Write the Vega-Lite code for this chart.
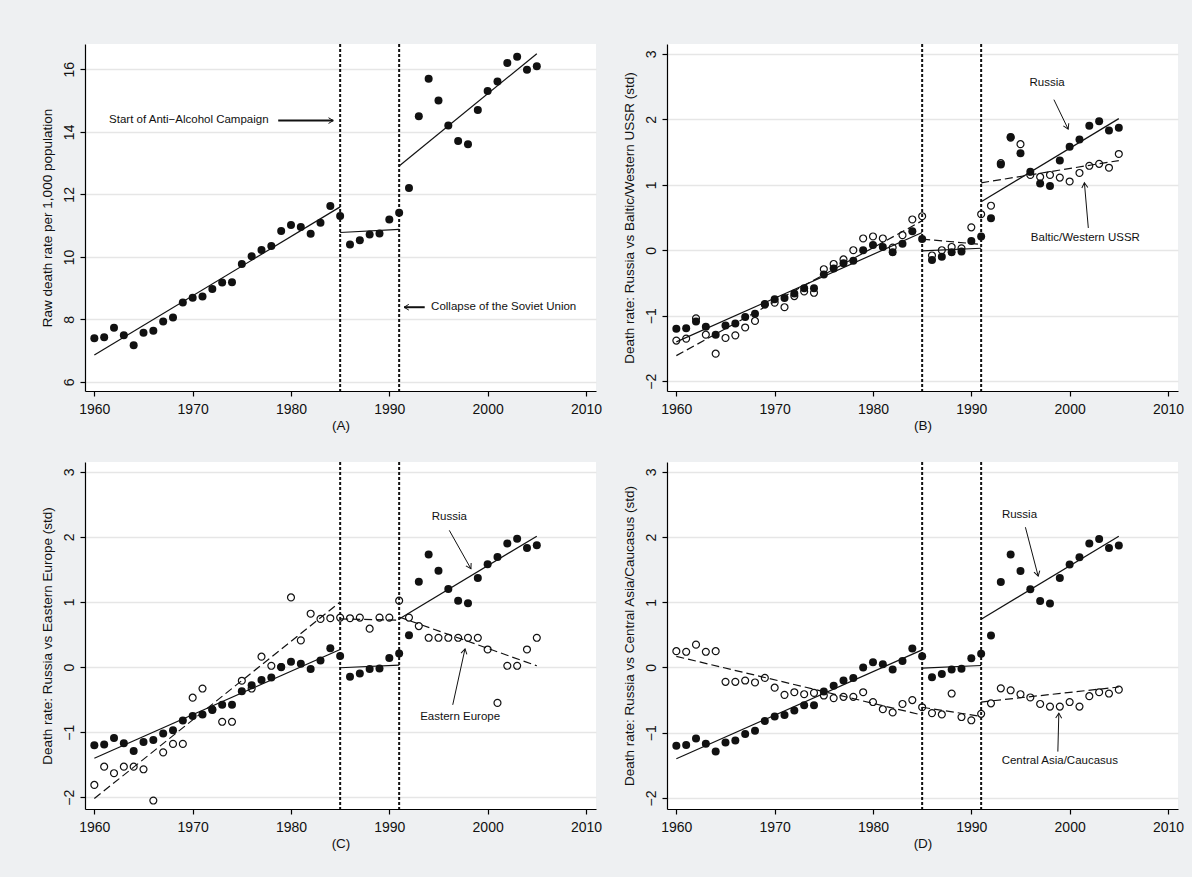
{
  "$schema": "https://vega.github.io/schema/vega-lite/v6.json",
  "background": "#eef0f2",
  "padding": {"left": 40, "top": 43, "right": 8, "bottom": 32},
  "bounds": "flush",
  "columns": 2,
  "spacing": {"row": 71, "column": 71},
  "datasets": {
    "pts": [
      {"year":1960,"raw":7.40,"russia":-1.20,"baltic":-1.38,"eastern":-1.81,"central":0.25},
      {"year":1961,"raw":7.43,"russia":-1.19,"baltic":-1.35,"eastern":-1.53,"central":0.24},
      {"year":1962,"raw":7.73,"russia":-1.09,"baltic":-1.04,"eastern":-1.63,"central":0.35},
      {"year":1963,"raw":7.49,"russia":-1.17,"baltic":-1.29,"eastern":-1.53,"central":0.24},
      {"year":1964,"raw":7.17,"russia":-1.29,"baltic":-1.58,"eastern":-1.53,"central":0.25},
      {"year":1965,"raw":7.57,"russia":-1.15,"baltic":-1.34,"eastern":-1.57,"central":-0.22},
      {"year":1966,"raw":7.64,"russia":-1.12,"baltic":-1.30,"eastern":-2.05,"central":-0.22},
      {"year":1967,"raw":7.93,"russia":-1.02,"baltic":-1.18,"eastern":-1.31,"central":-0.20},
      {"year":1968,"raw":8.06,"russia":-0.97,"baltic":-1.08,"eastern":-1.18,"central":-0.23},
      {"year":1969,"raw":8.54,"russia":-0.82,"baltic":-0.83,"eastern":-1.18,"central":-0.16},
      {"year":1970,"raw":8.69,"russia":-0.75,"baltic":-0.80,"eastern":-0.47,"central":-0.31},
      {"year":1971,"raw":8.73,"russia":-0.73,"baltic":-0.87,"eastern":-0.33,"central":-0.42},
      {"year":1972,"raw":8.97,"russia":-0.66,"baltic":-0.70,"eastern":-0.65,"central":-0.38},
      {"year":1973,"raw":9.18,"russia":-0.58,"baltic":-0.63,"eastern":-0.84,"central":-0.41},
      {"year":1974,"raw":9.19,"russia":-0.58,"baltic":-0.65,"eastern":-0.84,"central":-0.39},
      {"year":1975,"raw":9.77,"russia":-0.37,"baltic":-0.29,"eastern":-0.21,"central":-0.43},
      {"year":1976,"raw":10.02,"russia":-0.28,"baltic":-0.21,"eastern":-0.33,"central":-0.47},
      {"year":1977,"raw":10.22,"russia":-0.20,"baltic":-0.14,"eastern":0.16,"central":-0.45},
      {"year":1978,"raw":10.35,"russia":-0.16,"baltic":0.00,"eastern":0.02,"central":-0.45},
      {"year":1979,"raw":10.83,"russia":0.00,"baltic":0.18,"eastern":0.00,"central":-0.38},
      {"year":1980,"raw":11.02,"russia":0.08,"baltic":0.21,"eastern":1.07,"central":-0.53},
      {"year":1981,"raw":10.96,"russia":0.05,"baltic":0.18,"eastern":0.41,"central":-0.64},
      {"year":1982,"raw":10.74,"russia":-0.03,"baltic":0.04,"eastern":0.82,"central":-0.69},
      {"year":1983,"raw":11.09,"russia":0.10,"baltic":0.23,"eastern":0.74,"central":-0.56},
      {"year":1984,"raw":11.63,"russia":0.29,"baltic":0.47,"eastern":0.75,"central":-0.50},
      {"year":1985,"raw":11.31,"russia":0.17,"baltic":0.52,"eastern":0.76,"central":-0.61},
      {"year":1986,"raw":10.40,"russia":-0.15,"baltic":-0.08,"eastern":0.75,"central":-0.70},
      {"year":1987,"raw":10.53,"russia":-0.10,"baltic":0.00,"eastern":0.76,"central":-0.72},
      {"year":1988,"raw":10.72,"russia":-0.03,"baltic":0.05,"eastern":0.59,"central":-0.40},
      {"year":1989,"raw":10.75,"russia":-0.02,"baltic":0.03,"eastern":0.76,"central":-0.76},
      {"year":1990,"raw":11.20,"russia":0.14,"baltic":0.35,"eastern":0.76,"central":-0.81},
      {"year":1991,"raw":11.41,"russia":0.21,"baltic":0.55,"eastern":1.02,"central":-0.71},
      {"year":1992,"raw":12.20,"russia":0.49,"baltic":0.68,"eastern":0.76,"central":-0.55},
      {"year":1993,"raw":14.50,"russia":1.31,"baltic":1.33,"eastern":0.63,"central":-0.32},
      {"year":1994,"raw":15.70,"russia":1.73,"baltic":1.72,"eastern":0.45,"central":-0.35},
      {"year":1995,"raw":15.00,"russia":1.48,"baltic":1.62,"eastern":0.45,"central":-0.41},
      {"year":1996,"raw":14.20,"russia":1.20,"baltic":1.15,"eastern":0.45,"central":-0.46},
      {"year":1997,"raw":13.71,"russia":1.02,"baltic":1.12,"eastern":0.45,"central":-0.56},
      {"year":1998,"raw":13.60,"russia":0.98,"baltic":1.15,"eastern":0.45,"central":-0.60},
      {"year":1999,"raw":14.70,"russia":1.37,"baltic":1.11,"eastern":0.45,"central":-0.60},
      {"year":2000,"raw":15.31,"russia":1.58,"baltic":1.05,"eastern":0.27,"central":-0.53},
      {"year":2001,"raw":15.61,"russia":1.69,"baltic":1.18,"eastern":-0.55,"central":-0.60},
      {"year":2002,"raw":16.20,"russia":1.90,"baltic":1.29,"eastern":0.02,"central":-0.44},
      {"year":2003,"raw":16.40,"russia":1.97,"baltic":1.32,"eastern":0.02,"central":-0.38},
      {"year":2004,"raw":15.99,"russia":1.83,"baltic":1.26,"eastern":0.27,"central":-0.40},
      {"year":2005,"raw":16.10,"russia":1.87,"baltic":1.47,"eastern":0.45,"central":-0.34}
    ],
    "fits": [
      {"s":"raw","seg":1,"year":1960,"v":6.86},{"s":"raw","seg":1,"year":1985,"v":11.60},
      {"s":"raw","seg":2,"year":1985,"v":10.78},{"s":"raw","seg":2,"year":1991,"v":10.88},
      {"s":"raw","seg":3,"year":1991,"v":12.91},{"s":"raw","seg":3,"year":2005,"v":16.50},
      {"s":"russia","seg":1,"year":1960,"v":-1.40},{"s":"russia","seg":1,"year":1985,"v":0.27},
      {"s":"russia","seg":2,"year":1985,"v":-0.01},{"s":"russia","seg":2,"year":1991,"v":0.03},
      {"s":"russia","seg":3,"year":1991,"v":0.74},{"s":"russia","seg":3,"year":2005,"v":2.01},
      {"s":"baltic","seg":1,"year":1960,"v":-1.61},{"s":"baltic","seg":1,"year":1985,"v":0.45},
      {"s":"baltic","seg":2,"year":1985,"v":0.17},{"s":"baltic","seg":2,"year":1991,"v":0.09},
      {"s":"baltic","seg":3,"year":1991,"v":1.03},{"s":"baltic","seg":3,"year":2005,"v":1.37},
      {"s":"eastern","seg":1,"year":1960,"v":-2.02},{"s":"eastern","seg":1,"year":1985,"v":1.00},
      {"s":"eastern","seg":2,"year":1985,"v":0.74},{"s":"eastern","seg":2,"year":1991,"v":0.72},
      {"s":"eastern","seg":3,"year":1991,"v":0.77},{"s":"eastern","seg":3,"year":2005,"v":0.02},
      {"s":"central","seg":1,"year":1960,"v":0.17},{"s":"central","seg":1,"year":1985,"v":-0.73},
      {"s":"central","seg":2,"year":1985,"v":-0.61},{"s":"central","seg":2,"year":1991,"v":-0.75},
      {"s":"central","seg":3,"year":1991,"v":-0.53},{"s":"central","seg":3,"year":2005,"v":-0.30}
    ],
    "events": [{"year":1985},{"year":1991}],
    "notes": [
      {"p":"A","label":"Start of Anti−Alcohol Campaign","year":1961.5,"v":14.37},
      {"p":"A","label":"Collapse of  the Soviet Union","year":1994.25,"v":8.39},
      {"p":"B","label":"Russia","year":1997.7,"v":2.55},
      {"p":"B","label":"Baltic/Western USSR","year":2001.6,"v":0.19},
      {"p":"C","label":"Russia","year":1996.1,"v":2.30},
      {"p":"C","label":"Eastern Europe","year":1997.2,"v":-0.76},
      {"p":"D","label":"Russia","year":1994.9,"v":2.33},
      {"p":"D","label":"Central Asia/Caucasus","year":1999.0,"v":-1.43}
    ],
    "arrows": [
      {"id":"A1","p":"A","year":1984.3,"v":14.36,"year0":1978.7,"v0":14.36},
      {"id":"A2","p":"A","year":1991.5,"v":8.39,"year0":1993.6,"v0":8.39},
      {"id":"B1","p":"B","year":1999.85,"v":1.85,"year0":1998.4,"v0":2.30},
      {"id":"B2","p":"B","year":2001.5,"v":1.03,"year0":2001.9,"v0":0.34},
      {"id":"C1","p":"C","year":1998.3,"v":1.51,"year0":1996.1,"v0":2.10},
      {"id":"C2","p":"C","year":1997.7,"v":0.28,"year0":1996.45,"v0":-0.58},
      {"id":"D1","p":"D","year":1996.8,"v":1.40,"year0":1995.5,"v0":2.15},
      {"id":"D2","p":"D","year":1998.9,"v":-0.70,"year0":1998.8,"v0":-1.29}
    ]
  },
  "concat": [
    {
      "width": 511, "height": 347,
      "encoding": {
        "x": {"field":"year","type":"quantitative","scale":{"domain":[1959.05,2011.02],"nice":false,"zero":false},"axis":{"title":"(A)","values":[1960,1970,1980,1990,2000,2010],"format":"d"}}
      },
      "layer": [
        {"data":{"name":"events"},"mark":{"type":"rule","color":"#111","strokeWidth":2,"strokeDash":[3,2]}},
        {"data":{"name":"fits"},"transform":[{"filter":"datum.s == 'raw'"}],"mark":{"type":"line","color":"#111","strokeWidth":1.2},"encoding":{"y":{"field":"v","type":"quantitative","scale":{"domain":[5.71,16.81],"nice":false,"zero":false},"axis":{"title":"Raw death rate per 1,000 population","values":[6,8,10,12,14,16]}},"detail":{"field":"seg","type":"nominal"}}},
        {"data":{"name":"pts"},"transform":[{"fold":["raw"],"as":["s","v"]}],"mark":{"type":"point","shape":"circle","filled":true,"color":"#111","size":64,"opacity":1},"encoding":{"y":{"field":"v","type":"quantitative","scale":{"domain":[5.71,16.81],"nice":false,"zero":false},"axis":{"title":"Raw death rate per 1,000 population","values":[6,8,10,12,14,16]}}}},
        {"data":{"name":"notes"},"transform":[{"filter":"datum.p == 'A'"}],"mark":{"type":"text","align":"left","baseline":"middle","fontSize":11.5,"color":"#111","font":"Liberation Sans"},"encoding":{"y":{"field":"v","type":"quantitative","scale":{"domain":[5.71,16.81],"nice":false,"zero":false},"axis":{"title":"Raw death rate per 1,000 population","values":[6,8,10,12,14,16]}},"text":{"field":"label"}}},
        {"data":{"name":"arrows"},"transform":[{"filter":"datum.p == 'A'"}],"mark":{"type":"rule","color":"#111","strokeWidth":2},"encoding":{"y":{"field":"v","type":"quantitative","scale":{"domain":[5.71,16.81],"nice":false,"zero":false},"axis":{"title":"Raw death rate per 1,000 population","values":[6,8,10,12,14,16]}},"x2":{"field":"year0"},"y2":{"field":"v0"}}},
        {"data":{"name":"arrows"},"transform":[{"filter":"datum.id == 'A1'"}],"mark":{"type":"point","shape":"M-1,-0.6L0,0L-1,0.6","filled":false,"color":"#111","strokeWidth":1,"size":90,"angle":0,"opacity":1},"encoding":{"y":{"field":"v","type":"quantitative","scale":{"domain":[5.71,16.81],"nice":false,"zero":false},"axis":{"title":"Raw death rate per 1,000 population","values":[6,8,10,12,14,16]}}}},
        {"data":{"name":"arrows"},"transform":[{"filter":"datum.id == 'A2'"}],"mark":{"type":"point","shape":"M-1,-0.6L0,0L-1,0.6","filled":false,"color":"#111","strokeWidth":1,"size":90,"angle":180,"opacity":1},"encoding":{"y":{"field":"v","type":"quantitative","scale":{"domain":[5.71,16.81],"nice":false,"zero":false},"axis":{"title":"Raw death rate per 1,000 population","values":[6,8,10,12,14,16]}}}}
      ]
    },
    {
      "width": 511, "height": 347,
      "encoding": {
        "x": {"field":"year","type":"quantitative","scale":{"domain":[1959.05,2011.02],"nice":false,"zero":false},"axis":{"title":"(B)","values":[1960,1970,1980,1990,2000,2010],"format":"d"}}
      },
      "layer": [
        {"data":{"name":"events"},"mark":{"type":"rule","color":"#111","strokeWidth":2,"strokeDash":[3,2]}},
        {"data":{"name":"fits"},"transform":[{"filter":"datum.s == 'russia'"}],"mark":{"type":"line","color":"#111","strokeWidth":1.2},"encoding":{"y":{"field":"v","type":"quantitative","scale":{"domain":[-2.15,3.15],"nice":false,"zero":false},"axis":{"title":"Death rate: Russia vs Baltic/Western USSR (std)","values":[-2,-1,0,1,2,3]}},"detail":{"field":"seg","type":"nominal"}}},
        {"data":{"name":"fits"},"transform":[{"filter":"datum.s == 'baltic'"}],"mark":{"type":"line","color":"#111","strokeWidth":1.2,"strokeDash":[8,4]},"encoding":{"y":{"field":"v","type":"quantitative","scale":{"domain":[-2.15,3.15],"nice":false,"zero":false},"axis":{"title":"Death rate: Russia vs Baltic/Western USSR (std)","values":[-2,-1,0,1,2,3]}},"detail":{"field":"seg","type":"nominal"}}},
        {"data":{"name":"pts"},"transform":[{"fold":["russia"],"as":["s","v"]}],"mark":{"type":"point","shape":"circle","filled":true,"color":"#111","size":64,"opacity":1},"encoding":{"y":{"field":"v","type":"quantitative","scale":{"domain":[-2.15,3.15],"nice":false,"zero":false},"axis":{"title":"Death rate: Russia vs Baltic/Western USSR (std)","values":[-2,-1,0,1,2,3]}}}},
        {"data":{"name":"pts"},"transform":[{"fold":["baltic"],"as":["s","v"]}],"mark":{"type":"point","shape":"circle","filled":false,"color":"#111","size":48,"strokeWidth":1.2,"opacity":1},"encoding":{"y":{"field":"v","type":"quantitative","scale":{"domain":[-2.15,3.15],"nice":false,"zero":false},"axis":{"title":"Death rate: Russia vs Baltic/Western USSR (std)","values":[-2,-1,0,1,2,3]}}}},
        {"data":{"name":"notes"},"transform":[{"filter":"datum.p == 'B'"}],"mark":{"type":"text","align":"center","baseline":"middle","fontSize":11.5,"color":"#111","font":"Liberation Sans"},"encoding":{"y":{"field":"v","type":"quantitative","scale":{"domain":[-2.15,3.15],"nice":false,"zero":false},"axis":{"title":"Death rate: Russia vs Baltic/Western USSR (std)","values":[-2,-1,0,1,2,3]}},"text":{"field":"label"}}},
        {"data":{"name":"arrows"},"transform":[{"filter":"datum.p == 'B'"}],"mark":{"type":"rule","color":"#111","strokeWidth":1},"encoding":{"y":{"field":"v","type":"quantitative","scale":{"domain":[-2.15,3.15],"nice":false,"zero":false},"axis":{"title":"Death rate: Russia vs Baltic/Western USSR (std)","values":[-2,-1,0,1,2,3]}},"x2":{"field":"year0"},"y2":{"field":"v0"}}},
        {"data":{"name":"arrows"},"transform":[{"filter":"datum.id == 'B1'"}],"mark":{"type":"point","shape":"M-1,-0.6L0,0L-1,0.6","filled":false,"color":"#111","strokeWidth":1,"size":100,"angle":65,"opacity":1},"encoding":{"y":{"field":"v","type":"quantitative","scale":{"domain":[-2.15,3.15],"nice":false,"zero":false},"axis":{"title":"Death rate: Russia vs Baltic/Western USSR (std)","values":[-2,-1,0,1,2,3]}}}},
        {"data":{"name":"arrows"},"transform":[{"filter":"datum.id == 'B2'"}],"mark":{"type":"point","shape":"M-1,-0.6L0,0L-1,0.6","filled":false,"color":"#111","strokeWidth":1,"size":100,"angle":265,"opacity":1},"encoding":{"y":{"field":"v","type":"quantitative","scale":{"domain":[-2.15,3.15],"nice":false,"zero":false},"axis":{"title":"Death rate: Russia vs Baltic/Western USSR (std)","values":[-2,-1,0,1,2,3]}}}}
      ]
    },
    {
      "width": 511, "height": 347,
      "encoding": {
        "x": {"field":"year","type":"quantitative","scale":{"domain":[1959.05,2011.02],"nice":false,"zero":false},"axis":{"title":"(C)","values":[1960,1970,1980,1990,2000,2010],"format":"d"}}
      },
      "layer": [
        {"data":{"name":"events"},"mark":{"type":"rule","color":"#111","strokeWidth":2,"strokeDash":[3,2]}},
        {"data":{"name":"fits"},"transform":[{"filter":"datum.s == 'russia'"}],"mark":{"type":"line","color":"#111","strokeWidth":1.2},"encoding":{"y":{"field":"v","type":"quantitative","scale":{"domain":[-2.18,3.15],"nice":false,"zero":false},"axis":{"title":"Death rate: Russia vs Eastern Europe (std)","values":[-2,-1,0,1,2,3]}},"detail":{"field":"seg","type":"nominal"}}},
        {"data":{"name":"fits"},"transform":[{"filter":"datum.s == 'eastern'"}],"mark":{"type":"line","color":"#111","strokeWidth":1.2,"strokeDash":[8,4]},"encoding":{"y":{"field":"v","type":"quantitative","scale":{"domain":[-2.18,3.15],"nice":false,"zero":false},"axis":{"title":"Death rate: Russia vs Eastern Europe (std)","values":[-2,-1,0,1,2,3]}},"detail":{"field":"seg","type":"nominal"}}},
        {"data":{"name":"pts"},"transform":[{"fold":["russia"],"as":["s","v"]}],"mark":{"type":"point","shape":"circle","filled":true,"color":"#111","size":64,"opacity":1},"encoding":{"y":{"field":"v","type":"quantitative","scale":{"domain":[-2.18,3.15],"nice":false,"zero":false},"axis":{"title":"Death rate: Russia vs Eastern Europe (std)","values":[-2,-1,0,1,2,3]}}}},
        {"data":{"name":"pts"},"transform":[{"fold":["eastern"],"as":["s","v"]}],"mark":{"type":"point","shape":"circle","filled":false,"color":"#111","size":48,"strokeWidth":1.2,"opacity":1},"encoding":{"y":{"field":"v","type":"quantitative","scale":{"domain":[-2.18,3.15],"nice":false,"zero":false},"axis":{"title":"Death rate: Russia vs Eastern Europe (std)","values":[-2,-1,0,1,2,3]}}}},
        {"data":{"name":"notes"},"transform":[{"filter":"datum.p == 'C'"}],"mark":{"type":"text","align":"center","baseline":"middle","fontSize":11.5,"color":"#111","font":"Liberation Sans"},"encoding":{"y":{"field":"v","type":"quantitative","scale":{"domain":[-2.18,3.15],"nice":false,"zero":false},"axis":{"title":"Death rate: Russia vs Eastern Europe (std)","values":[-2,-1,0,1,2,3]}},"text":{"field":"label"}}},
        {"data":{"name":"arrows"},"transform":[{"filter":"datum.p == 'C'"}],"mark":{"type":"rule","color":"#111","strokeWidth":1},"encoding":{"y":{"field":"v","type":"quantitative","scale":{"domain":[-2.18,3.15],"nice":false,"zero":false},"axis":{"title":"Death rate: Russia vs Eastern Europe (std)","values":[-2,-1,0,1,2,3]}},"x2":{"field":"year0"},"y2":{"field":"v0"}}},
        {"data":{"name":"arrows"},"transform":[{"filter":"datum.id == 'C1'"}],"mark":{"type":"point","shape":"M-1,-0.6L0,0L-1,0.6","filled":false,"color":"#111","strokeWidth":1,"size":100,"angle":61,"opacity":1},"encoding":{"y":{"field":"v","type":"quantitative","scale":{"domain":[-2.18,3.15],"nice":false,"zero":false},"axis":{"title":"Death rate: Russia vs Eastern Europe (std)","values":[-2,-1,0,1,2,3]}}}},
        {"data":{"name":"arrows"},"transform":[{"filter":"datum.id == 'C2'"}],"mark":{"type":"point","shape":"M-1,-0.6L0,0L-1,0.6","filled":false,"color":"#111","strokeWidth":1,"size":100,"angle":-77.5,"opacity":1},"encoding":{"y":{"field":"v","type":"quantitative","scale":{"domain":[-2.18,3.15],"nice":false,"zero":false},"axis":{"title":"Death rate: Russia vs Eastern Europe (std)","values":[-2,-1,0,1,2,3]}}}}
      ]
    },
    {
      "width": 511, "height": 347,
      "encoding": {
        "x": {"field":"year","type":"quantitative","scale":{"domain":[1959.05,2011.02],"nice":false,"zero":false},"axis":{"title":"(D)","values":[1960,1970,1980,1990,2000,2010],"format":"d"}}
      },
      "layer": [
        {"data":{"name":"events"},"mark":{"type":"rule","color":"#111","strokeWidth":2,"strokeDash":[3,2]}},
        {"data":{"name":"fits"},"transform":[{"filter":"datum.s == 'russia'"}],"mark":{"type":"line","color":"#111","strokeWidth":1.2},"encoding":{"y":{"field":"v","type":"quantitative","scale":{"domain":[-2.17,3.15],"nice":false,"zero":false},"axis":{"title":"Death rate: Russia vs Central Asia/Caucasus (std)","values":[-2,-1,0,1,2,3]}},"detail":{"field":"seg","type":"nominal"}}},
        {"data":{"name":"fits"},"transform":[{"filter":"datum.s == 'central'"}],"mark":{"type":"line","color":"#111","strokeWidth":1.2,"strokeDash":[8,4]},"encoding":{"y":{"field":"v","type":"quantitative","scale":{"domain":[-2.17,3.15],"nice":false,"zero":false},"axis":{"title":"Death rate: Russia vs Central Asia/Caucasus (std)","values":[-2,-1,0,1,2,3]}},"detail":{"field":"seg","type":"nominal"}}},
        {"data":{"name":"pts"},"transform":[{"fold":["russia"],"as":["s","v"]}],"mark":{"type":"point","shape":"circle","filled":true,"color":"#111","size":64,"opacity":1},"encoding":{"y":{"field":"v","type":"quantitative","scale":{"domain":[-2.17,3.15],"nice":false,"zero":false},"axis":{"title":"Death rate: Russia vs Central Asia/Caucasus (std)","values":[-2,-1,0,1,2,3]}}}},
        {"data":{"name":"pts"},"transform":[{"fold":["central"],"as":["s","v"]}],"mark":{"type":"point","shape":"circle","filled":false,"color":"#111","size":48,"strokeWidth":1.2,"opacity":1},"encoding":{"y":{"field":"v","type":"quantitative","scale":{"domain":[-2.17,3.15],"nice":false,"zero":false},"axis":{"title":"Death rate: Russia vs Central Asia/Caucasus (std)","values":[-2,-1,0,1,2,3]}}}},
        {"data":{"name":"notes"},"transform":[{"filter":"datum.p == 'D'"}],"mark":{"type":"text","align":"center","baseline":"middle","fontSize":11.5,"color":"#111","font":"Liberation Sans"},"encoding":{"y":{"field":"v","type":"quantitative","scale":{"domain":[-2.17,3.15],"nice":false,"zero":false},"axis":{"title":"Death rate: Russia vs Central Asia/Caucasus (std)","values":[-2,-1,0,1,2,3]}},"text":{"field":"label"}}},
        {"data":{"name":"arrows"},"transform":[{"filter":"datum.p == 'D'"}],"mark":{"type":"rule","color":"#111","strokeWidth":1},"encoding":{"y":{"field":"v","type":"quantitative","scale":{"domain":[-2.17,3.15],"nice":false,"zero":false},"axis":{"title":"Death rate: Russia vs Central Asia/Caucasus (std)","values":[-2,-1,0,1,2,3]}},"x2":{"field":"year0"},"y2":{"field":"v0"}}},
        {"data":{"name":"arrows"},"transform":[{"filter":"datum.id == 'D1'"}],"mark":{"type":"point","shape":"M-1,-0.6L0,0L-1,0.6","filled":false,"color":"#111","strokeWidth":1,"size":100,"angle":75,"opacity":1},"encoding":{"y":{"field":"v","type":"quantitative","scale":{"domain":[-2.17,3.15],"nice":false,"zero":false},"axis":{"title":"Death rate: Russia vs Central Asia/Caucasus (std)","values":[-2,-1,0,1,2,3]}}}},
        {"data":{"name":"arrows"},"transform":[{"filter":"datum.id == 'D2'"}],"mark":{"type":"point","shape":"M-1,-0.6L0,0L-1,0.6","filled":false,"color":"#111","strokeWidth":1,"size":100,"angle":-88.5,"opacity":1},"encoding":{"y":{"field":"v","type":"quantitative","scale":{"domain":[-2.17,3.15],"nice":false,"zero":false},"axis":{"title":"Death rate: Russia vs Central Asia/Caucasus (std)","values":[-2,-1,0,1,2,3]}}}}
      ]
    }
  ],
  "config": {
    "view": {"stroke": null, "fill": "white"},
    "font": "Liberation Sans",
    "axis": {
      "domainColor": "#000", "domainWidth": 1.2, "tickColor": "#000", "tickWidth": 1.2, "tickSize": 5,
      "labelColor": "#111", "titleColor": "#111", "labelFont": "Liberation Sans", "titleFont": "Liberation Sans",
      "labelFontSize": 14, "titleFontSize": 13.5, "titleFontWeight": "normal",
      "gridColor": "#e6e6e6", "gridWidth": 1.6, "labelFlush": false, "labelOverlap": false
    },
    "axisX": {"grid": false, "labelPadding": 6, "titlePadding": 2},
    "axisY": {"grid": true, "labelAngle": -90, "labelAlign": "center", "labelBaseline": "bottom", "labelPadding": 4, "titlePadding": 8}
  }
}
